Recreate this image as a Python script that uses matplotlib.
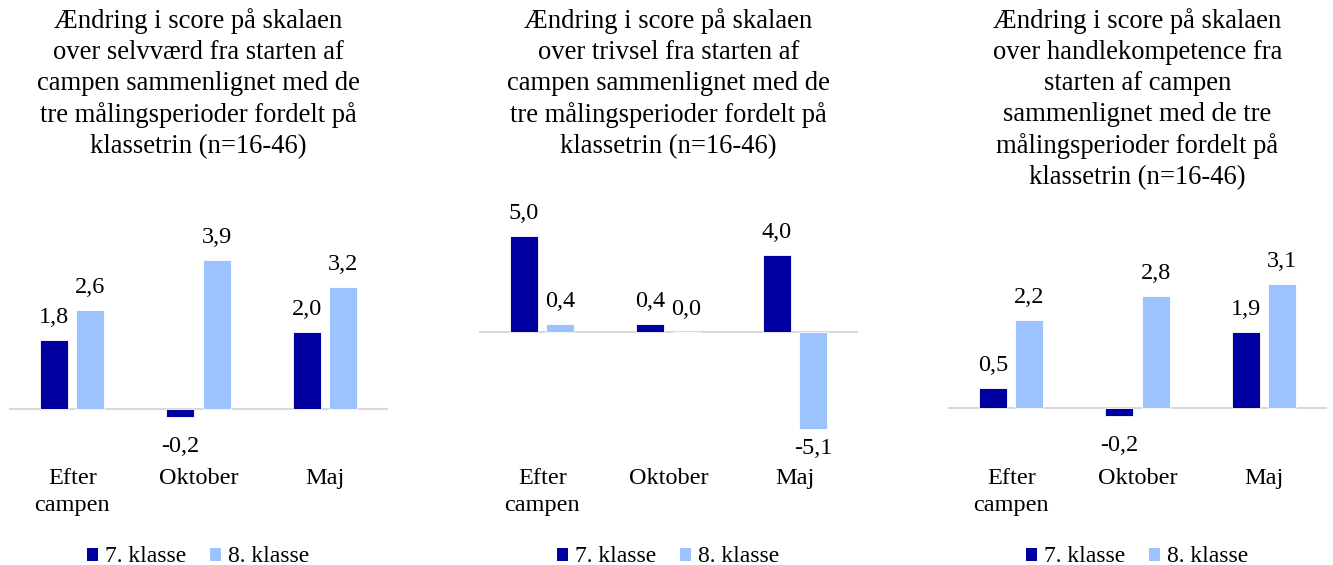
import matplotlib
matplotlib.use("Agg")
import matplotlib.pyplot as plt
from matplotlib.patches import Patch

plt.rcParams['font.family'] = ['Liberation Serif', 'DejaVu Serif']

categories = ["Efter\ncampen", "Oktober", "Maj"]
series_names = ["7. klasse", "8. klasse"]

titles = [
    "Ændring i score på skalaen\nover selvværd fra starten af\ncampen sammenlignet med de\ntre målingsperioder fordelt på\nklassetrin (n=16-46)",
    "Ændring i score på skalaen\nover trivsel fra starten af\ncampen sammenlignet med de\ntre målingsperioder fordelt på\nklassetrin (n=16-46)",
    "Ændring i score på skalaen\nover handlekompetence fra\nstarten af campen\nsammenlignet med de tre\nmålingsperioder fordelt på\nklassetrin (n=16-46)",
]

selvvaerd_7 = [1.8, -0.2, 2.0]
selvvaerd_8 = [2.6, 3.9, 3.2]
trivsel_7 = [5.0, 0.4, 4.0]
trivsel_8 = [0.4, 0.0, -5.1]
handle_7 = [0.5, -0.2, 1.9]
handle_8 = [2.2, 2.8, 3.1]

data = [(selvvaerd_7, selvvaerd_8), (trivsel_7, trivsel_8), (handle_7, handle_8)]
ylims = [(-1.33, 5.46), (-6.7, 6.9), (-1.3, 5.2)]

colors = ["#0000A0", "#9DC3FF"]

W, H = 1333, 565
fig = plt.figure(figsize=(W / 100, H / 100), dpi=100)

lefts = [9, 479, 948]
ax_w = 379
ax_top, ax_bot = 200, 460

bw = 0.222
off = 0.143
fs = 17.5

for i in range(3):
    ax = fig.add_axes([lefts[i] / W, 1 - ax_bot / H, ax_w / W, (ax_bot - ax_top) / H])
    s7, s8 = data[i]
    xs = range(len(categories))
    ax.set_xlim(-0.5, 2.5)
    ax.set_ylim(*ylims[i])
    for j, vals in enumerate((s7, s8)):
        pos = [x + (-off if j == 0 else off) for x in xs]
        ax.bar(pos, vals, width=bw, color=colors[j], edgecolor="white", linewidth=0.6, zorder=2)
        for p, v in zip(pos, vals):
            txt = f"{v:.1f}".replace(".", ",")
            dx, dy = ax.transData.transform((p, v))
            if v >= 0:
                by = dy + 17
            else:
                by = max(dy - 35, H - 454)
            fig.text(dx / W, by / H, txt, ha="center", va="baseline", fontsize=fs)
    ax.axhline(0, color="#d9d9d9", linewidth=1.5, zorder=1)
    ax.set_xticks(list(xs))
    ax.set_xticklabels(categories, fontsize=fs, linespacing=1.35)
    ax.tick_params(axis="x", length=0, pad=6)
    ax.set_yticks([])
    for sp in ax.spines.values():
        sp.set_visible(False)
    ax.patch.set_alpha(0)

    cx = (lefts[i] + ax_w / 2) / W
    fig.text(cx, 1 - 8 / H, titles[i], ha="center", va="top", fontsize=19.2, linespacing=1.32)

    handles = [Patch(facecolor=colors[k], label=series_names[k]) for k in range(2)]
    fig.legend(handles=handles, loc="center", bbox_to_anchor=(cx, 1 - 557 / H), ncol=2,
               frameon=False, fontsize=17, handlelength=0.47, handleheight=0.47,
               handletextpad=0.3, columnspacing=1.0)

fig.savefig("out.png", dpi=100)
